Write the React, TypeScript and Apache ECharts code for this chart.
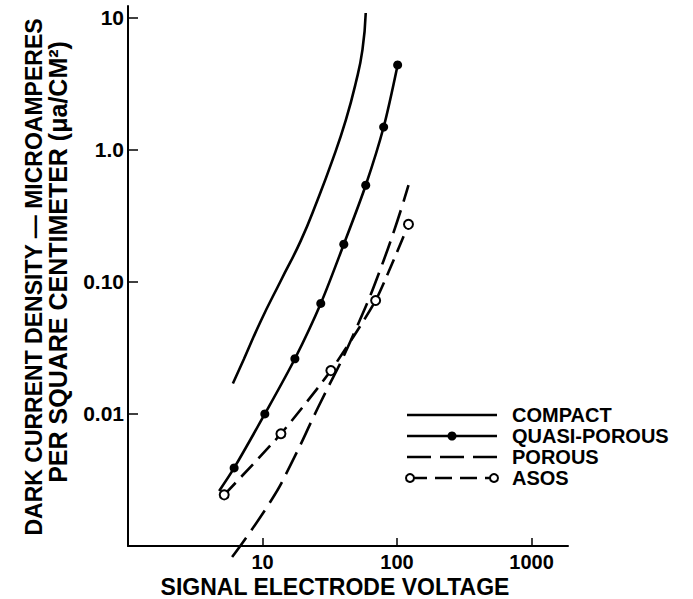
import React, { useEffect, useRef } from "react";
import * as echarts from "echarts";

// Signal electrode voltage (V) and dark current density (µA/cm²)
const compactV = [6.02, 7.29, 9.75, 13.7, 19.3, 25.6, 33.1, 41.6, 49.3, 55.3, 58.5];
const compactJ = [0.017, 0.0262, 0.0511, 0.1026, 0.2065, 0.416, 0.836, 1.68, 3.21, 5.72, 10.9];

const quasiV = [4.76, 6.15, 10.4, 17.4, 27.1, 40.2, 58.5, 79.5, 101];
const quasiJ = [0.00261, 0.0039, 0.01, 0.0262, 0.0687, 0.193, 0.54, 1.49, 4.4];
const quasiMarked = [false, true, true, true, true, true, true, true, true];

const porousV = [5.94, 11.56, 16.3, 25.8, 45.3, 79.5, 121.6];
const porousJ = [0.000826, 0.0022, 0.00419, 0.01114, 0.036, 0.1455, 0.54];

const asosV = [5.19, 13.7, 32.2, 69.3, 121.6];
const asosJ = [0.00244, 0.00708, 0.0213, 0.0724, 0.273];

const xTicks = [10, 100, 1000];
const xTickLabels = ["10", "100", "1000"];
const yTicks = [0.01, 0.1, 1, 10];
const yTickLabels = ["0.01", "0.10", "1.0", "10"];

const legendNames = ["COMPACT", "QUASI-POROUS", "POROUS", "ASOS"];

const xTitle = "SIGNAL ELECTRODE VOLTAGE";
const yTitle1 = "DARK CURRENT DENSITY — MICROAMPERES";
const yTitle2 = "PER SQUARE CENTIMETER (μa/CM²)";

const FONT = "'Liberation Sans', Arial, sans-serif";

function pickLabel(v: number, ticks: number[], labels: string[]) {
  const i = ticks.findIndex((t) => Math.abs(Math.log10(t) - Math.log10(v)) < 0.01);
  return i >= 0 ? labels[i] : "";
}

export default function App() {
  const ref = useRef<HTMLDivElement>(null);
  useEffect(() => {
    if (!ref.current) return;
    const chart = echarts.init(ref.current, undefined, { renderer: "svg" });
    const black = "#000";
    const lw = 2.6;
    const legendY = [415, 436, 457, 478];
    const lx1 = 407;
    const lx2 = 497;
    const textStyle = { fontFamily: FONT, fontWeight: "bold" as const, fill: black };

    const option: any = {
      animation: false,
      backgroundColor: "#fff",
      grid: { left: 128, right: 125, top: 6, bottom: 53, containLabel: false },
      xAxis: {
        type: "log",
        logBase: 10,
        min: 1,
        max: 1865,
        axisLine: { show: true, lineStyle: { color: black, width: 2 } },
        axisTick: { show: true, inside: true, length: 8, customValues: xTicks, lineStyle: { color: black, width: 1.5 } },
        axisLabel: {
          customValues: xTicks,
          formatter: (v: number) => pickLabel(v, xTicks, xTickLabels),
          color: black,
          fontFamily: FONT,
          fontWeight: "bold",
          fontSize: 20,
          margin: 6,
        },
        splitLine: { show: false },
        minorTick: { show: false },
      },
      yAxis: {
        type: "log",
        logBase: 10,
        min: 0.001,
        max: 12.3,
        axisLine: { show: true, lineStyle: { color: black, width: 2 } },
        axisTick: { show: true, inside: true, length: 10, customValues: yTicks, lineStyle: { color: black, width: 1.5 } },
        axisLabel: {
          customValues: yTicks,
          formatter: (v: number) => pickLabel(v, yTicks, yTickLabels),
          color: black,
          fontFamily: FONT,
          fontWeight: "bold",
          fontSize: 21,
          margin: 4,
        },
        splitLine: { show: false },
        minorTick: { show: false },
      },
      series: [
        {
          name: legendNames[0],
          type: "line",
          smooth: true,
          symbol: "none",
          clip: false,
          lineStyle: { color: black, width: lw },
          data: compactV.map((v, i) => [v, compactJ[i]]),
        },
        {
          name: legendNames[1],
          type: "line",
          smooth: 0.3,
          symbol: "circle",
          symbolSize: 9,
          clip: false,
          itemStyle: { color: black },
          lineStyle: { color: black, width: lw },
          data: quasiV.map((v, i) =>
            quasiMarked[i] ? { value: [v, quasiJ[i]] } : { value: [v, quasiJ[i]], symbol: "none" }
          ),
        },
        {
          name: legendNames[2],
          type: "line",
          smooth: true,
          symbol: "none",
          clip: false,
          lineStyle: { color: black, width: lw, type: [24, 9] },
          data: porousV.map((v, i) => [v, porousJ[i]]),
        },
        {
          name: legendNames[3],
          type: "line",
          smooth: 0.2,
          symbol: "circle",
          symbolSize: 9,
          clip: false,
          itemStyle: { color: "#fff", borderColor: black, borderWidth: 2 },
          lineStyle: { color: black, width: lw, type: [17, 8] },
          data: asosV.map((v, i) => [v, asosJ[i]]),
          z: 3,
        },
      ],
      graphic: [
        // axis titles
        {
          type: "text",
          x: 335,
          y: 587,
          style: { ...textStyle, text: xTitle, fontSize: 23, textAlign: "center", textVerticalAlign: "middle" },
        },
        {
          type: "text",
          x: 34,
          y: 277,
          rotation: Math.PI / 2,
          style: { ...textStyle, text: yTitle1, fontSize: 23, textAlign: "center", textVerticalAlign: "middle" },
        },
        {
          type: "text",
          x: 58,
          y: 262,
          rotation: Math.PI / 2,
          style: { ...textStyle, text: yTitle2, fontSize: 25, textAlign: "center", textVerticalAlign: "middle" },
        },
        // legend: compact
        { type: "line", shape: { x1: lx1, y1: legendY[0], x2: lx2, y2: legendY[0] }, style: { stroke: black, lineWidth: lw } },
        // quasi-porous
        { type: "line", shape: { x1: lx1, y1: legendY[1], x2: lx2, y2: legendY[1] }, style: { stroke: black, lineWidth: lw } },
        { type: "circle", shape: { cx: 452, cy: legendY[1], r: 4.5 }, style: { fill: black } },
        // porous
        {
          type: "line",
          shape: { x1: lx1, y1: legendY[2], x2: lx2, y2: legendY[2] },
          style: { stroke: black, lineWidth: lw, lineDash: [24, 9] },
        },
        // asos
        {
          type: "line",
          shape: { x1: lx1 + 3, y1: legendY[3], x2: lx2 - 3, y2: legendY[3] },
          style: { stroke: black, lineWidth: lw, lineDash: [17, 8] },
        },
        { type: "circle", shape: { cx: lx1 + 3, cy: legendY[3], r: 4 }, style: { fill: "#fff", stroke: black, lineWidth: 2 } },
        { type: "circle", shape: { cx: lx2 - 3, cy: legendY[3], r: 4 }, style: { fill: "#fff", stroke: black, lineWidth: 2 } },
        ...legendNames.map((n, i) => ({
          type: "text",
          x: 512,
          y: legendY[i],
          style: { ...textStyle, text: n, fontSize: 20, textAlign: "left", textVerticalAlign: "middle" },
        })),
      ],
    };
    chart.setOption(option);
    return () => chart.dispose();
  }, []);
  return <div ref={ref} style={{ position: "fixed", left: 0, top: 0, width: 693, height: 599 }} />;
}
